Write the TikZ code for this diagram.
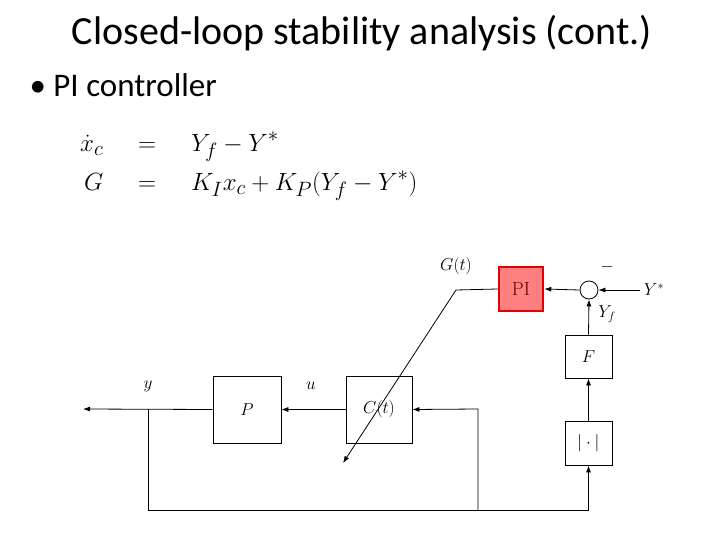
\documentclass[tikz,border=0pt]{standalone}
\usepackage{amsmath}
\usepackage{fontspec}
\setmainfont{Carlito}
\newfontfamily\lmr{Latin Modern Roman}
\usetikzlibrary{arrows.meta}
\begin{document}
\begin{tikzpicture}[x=1pt,y=-1pt,
  blk/.style={draw,line width=0.8pt,inner sep=0pt},
  arr/.style={-{Latex[length=7pt,width=5pt]},line width=0.8pt},
  ln/.style={line width=0.8pt},
  lbl/.style={font=\fontsize{18}{20}\selectfont}]
\useasboundingbox (0,0) rectangle (720,540);
\node (title) at (362,33) {\fontsize{40}{46}\selectfont Closed-loop stability analysis (cont.)};
\node[anchor=west] (bul) at (26,85) {\fontsize{33}{38}\selectfont • PI controller};
\node[anchor=north west,inner sep=0pt] (eq) at (80,126) {\fontsize{28}{36}\selectfont $\begin{aligned}\dot x_c \quad&=\quad Y_f-Y^*\\ G\quad&=\quad K_I x_c+K_P(Y_f-Y^*)\end{aligned}$};
\node[blk,minimum width=68,minimum height=67] (P) at (247,409.5) {\fontsize{18}{20}\selectfont $P$};
\node[blk,minimum width=66,minimum height=67] (C) at (379,409.5) {\fontsize{18}{20}\selectfont $C(t)$};
\node[blk,minimum width=47,minimum height=44] (abs) at (588.5,443) {\fontsize{18}{20}\selectfont $|\cdot|$};
\node[blk,minimum width=47,minimum height=43] (F) at (588.5,356.5) {\fontsize{18}{20}\selectfont $F$};
\node[draw,circle,minimum size=18,inner sep=0pt,line width=0.8pt] (sum) at (589,290) {};
\node[draw=red!90!black,fill=red!50,line width=2.5pt,minimum width=44,minimum height=44,inner sep=0pt] (PI) at (521,289) {\lmr\fontsize{19}{20}\selectfont\color{red!40!black}PI};
\coordinate (yout) at (83,409);
\coordinate (j1) at (148,409);
\coordinate (b1) at (148,510);
\coordinate (b2) at (478,510);
\coordinate (b3) at (478,409);
\coordinate (b4) at (588.5,510);
\coordinate (ystar) at (640,290);
\coordinate (g1) at (456,290);
\coordinate (g2) at (343,463);
\draw[arr] (P.west) -- (yout);
\draw[arr] (C.west) -- (P.east);
\draw[ln] (j1) -- (b1) -- (b4);
\draw[arr] (b2) -- (b3) -- (C.east);
\draw[arr] (b4) -- (abs.south);
\draw[arr] (abs.north) -- (F.south);
\draw[arr] (F.north) -- (sum.south);
\draw[arr] (ystar) -- (sum.east);
\draw[arr] (sum.west) -- (PI.east);
\draw[ln] (PI.west) -- (g1);
\draw[arr] (g1) -- (g2);
\node[lbl] (ly) at (148,386) {$y$};
\node[lbl] (lu) at (311,386) {$u$};
\node[lbl] (lg) at (456,266) {$G(t)$};
\node[lbl] (lyf) at (607,314) {$Y_f$};
\node[lbl] (lys) at (654,290) {$Y^*$};
\node[lbl] (lm) at (607,267) {$-$};
\end{tikzpicture}
\end{document}
